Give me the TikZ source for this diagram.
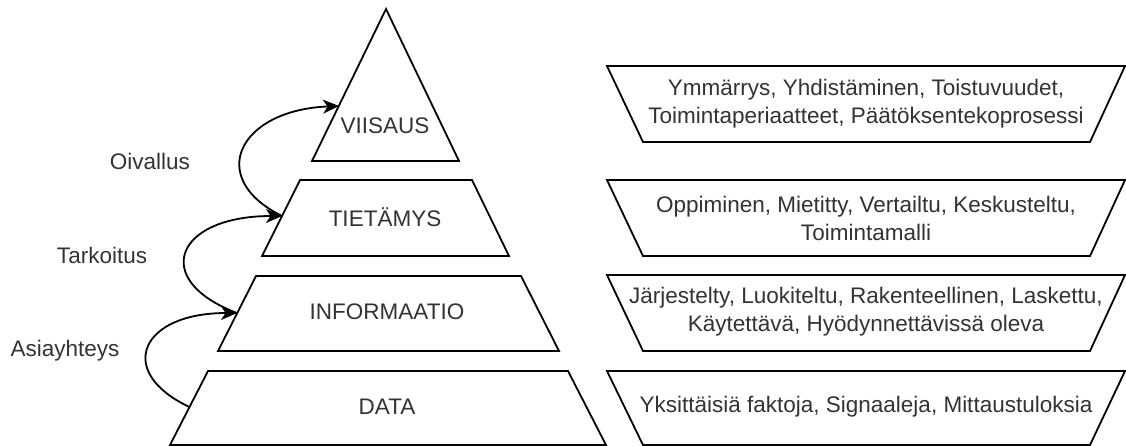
\documentclass[tikz,border=0pt]{standalone}
\usepackage{fontspec}
\setmainfont{Liberation Sans}
\usetikzlibrary{arrows.meta}
\tikzset{
  tier/.style={draw=black, line width=1.8pt, fill=white},
  txt/.style={text=black!80, font=\fontsize{22.5}{28}\selectfont, inner sep=0pt, align=center},
  curvelink/.style={draw=black, line width=1.8pt, -{Stealth[length=16pt,width=14pt,inset=4.5pt]}},
}
\begin{document}
\begin{tikzpicture}[x=1pt,y=-1pt]
\useasboundingbox (0,0) rectangle (1126,445);

% pyramid tiers
\path[tier] (386,9) -- (459,161) -- (312,161) -- cycle;
\path[tier] (300,180) -- (472,180) -- (509,256) -- (262,256) -- cycle;
\path[tier] (256,276) -- (521,276) -- (559,351) -- (218,351) -- cycle;
\path[tier] (208,371) -- (568,371) -- (606,445) -- (170,445) -- cycle;

\node[txt] (viisaus) at (385,126) {VIISAUS};
\node[txt] (tietamys) at (385,217) {TIETÄMYS};
\node[txt] (informaatio) at (387,312) {INFORMAATIO};
\node[txt] (data) at (387,407) {DATA};

% descriptions (inverted trapezoids)
\path[tier] (607,66) -- (1125,66) -- (1090,142) -- (643,142) -- cycle;
\path[tier] (607,180) -- (1125,180) -- (1090,256) -- (643,256) -- cycle;
\path[tier] (607,275) -- (1125,275) -- (1090,351) -- (643,351) -- cycle;
\path[tier] (607,371) -- (1125,371) -- (1090,445) -- (643,445) -- cycle;

\node[txt] (d1) at (866,104) {Ymmärrys, Yhdistäminen, Toistuvuudet,\\Toimintaperiaatteet, Päätöksentekoprosessi};
\node[txt] (d2) at (866,218) {Oppiminen, Mietitty, Vertailtu, Keskusteltu,\\Toimintamalli};
\node[txt] (d3) at (866,312) {Järjestelty, Luokiteltu, Rakenteellinen, Laskettu,\\Käytettävä, Hyödynnettävissä oleva};
\node[txt] (d4) at (866,407) {Yksittäisiä faktoja, Signaaleja, Mittaustuloksia};

% connector ends on the left edges of the tiers
\coordinate (pW) at (339,106);
\coordinate (pK) at (282,216);
\coordinate (pI) at (237,313);
\coordinate (pD) at (189.5,407);

\draw[curvelink] (pD) .. controls (115,372) and (140,313) .. (pI);
\draw[curvelink] (pI) .. controls (150,280) and (175,216) .. (pK);
\draw[curvelink] (pK) .. controls (205,178) and (239,110) .. (pW);

\node[txt] (oivallus) at (150,161) {Oivallus};
\node[txt] (tarkoitus) at (102,255) {Tarkoitus};
\node[txt] (asiayhteys) at (65,351) {Asiayhteys};
\end{tikzpicture}
\end{document}
